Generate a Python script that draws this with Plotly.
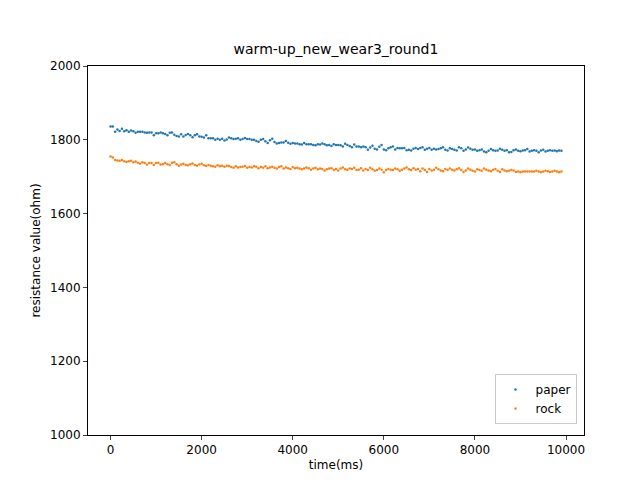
import plotly.graph_objects as go

time_ms = [i * 50 for i in range(199)]

paper = [
    1836, 1836, 1822, 1828, 1824, 1830, 1823, 1826, 1822, 1825, 1823, 1819, 1822, 1822, 1822, 1820, 1819, 1820, 1820, 1812,
    1818, 1818, 1820, 1818, 1816, 1812, 1819, 1820, 1814, 1810, 1809, 1815, 1809, 1813, 1816, 1812, 1807, 1812, 1815, 1809,
    1808, 1806, 1812, 1804, 1804, 1804, 1800, 1803, 1800, 1803, 1798, 1801, 1806, 1804, 1802, 1803, 1804, 1800, 1802, 1805,
    1802, 1802, 1800, 1800, 1797, 1795, 1800, 1802, 1796, 1791, 1799, 1803, 1794, 1790, 1791, 1793, 1793, 1797, 1792, 1789,
    1791, 1790, 1790, 1788, 1787, 1791, 1788, 1788, 1788, 1786, 1785, 1788, 1787, 1790, 1788, 1785, 1786, 1783, 1788, 1786,
    1786, 1785, 1782, 1789, 1786, 1783, 1780, 1787, 1782, 1782, 1780, 1782, 1780, 1773, 1779, 1784, 1776, 1774, 1781, 1786,
    1774, 1772, 1777, 1780, 1782, 1774, 1778, 1777, 1777, 1778, 1772, 1773, 1771, 1776, 1778, 1775, 1778, 1780, 1773, 1776,
    1778, 1773, 1776, 1774, 1775, 1777, 1780, 1773, 1771, 1777, 1775, 1773, 1771, 1780, 1777, 1770, 1774, 1779, 1776, 1773,
    1774, 1770, 1772, 1774, 1768, 1766, 1770, 1775, 1772, 1770, 1771, 1776, 1773, 1770, 1772, 1766, 1767, 1772, 1774, 1770,
    1769, 1771, 1772, 1775, 1768, 1770, 1772, 1770, 1766, 1771, 1773, 1768, 1770, 1772, 1770, 1771, 1769, 1771, 1770,
]

rock = [
    1755, 1752, 1745, 1744, 1743, 1745, 1742, 1740, 1742, 1743, 1739, 1741, 1738, 1735, 1739, 1737, 1733, 1737, 1737, 1732,
    1737, 1738, 1733, 1734, 1737, 1734, 1732, 1738, 1739, 1734, 1730, 1733, 1735, 1732, 1731, 1734, 1736, 1732, 1730, 1733,
    1735, 1731, 1729, 1732, 1730, 1728, 1727, 1731, 1728, 1730, 1727, 1730, 1729, 1726, 1724, 1728, 1725, 1726, 1727, 1729,
    1724, 1726, 1725, 1728, 1727, 1723, 1726, 1724, 1728, 1723, 1725, 1727, 1724, 1722, 1726, 1728, 1722, 1725, 1723, 1721,
    1726, 1723, 1724, 1722, 1720, 1722, 1725, 1723, 1719, 1722, 1724, 1720, 1722, 1721, 1717, 1720, 1722, 1723, 1718, 1721,
    1717, 1722, 1725, 1720, 1719, 1722, 1721, 1724, 1718, 1719, 1723, 1717, 1721, 1718, 1724, 1720, 1716, 1718, 1722, 1719,
    1712, 1718, 1721, 1719, 1718, 1722, 1720, 1716, 1719, 1722, 1725, 1720, 1718, 1723, 1719, 1721, 1715, 1722, 1718, 1713,
    1721, 1717, 1719, 1724, 1720, 1717, 1715, 1721, 1718, 1722, 1719, 1717, 1720, 1723, 1718, 1713, 1717, 1722, 1719, 1716,
    1714, 1720, 1718, 1716, 1722, 1719, 1717, 1715, 1719, 1721, 1716, 1713, 1720, 1717, 1715, 1716, 1718, 1717, 1713, 1714,
    1712, 1714, 1714, 1714, 1714, 1714, 1714, 1716, 1714, 1712, 1714, 1716, 1715, 1713, 1714, 1716, 1714, 1712, 1714,
]

x_ticks = [0, 2000, 4000, 6000, 8000, 10000]
y_ticks = [1000, 1200, 1400, 1600, 1800, 2000]

fig = go.Figure()
fig.add_trace(go.Scatter(x=time_ms, y=paper, mode="markers", name="paper",
                         marker=dict(color="#1f77b4", size=2.5)))
fig.add_trace(go.Scatter(x=time_ms, y=rock, mode="markers", name="rock",
                         marker=dict(color="#ff7f0e", size=2.5)))

axis = dict(showline=True, linecolor="black", mirror=True, ticks="outside",
            ticklen=4, showgrid=False, zeroline=False, automargin=False,
            tickfont=dict(size=12))
fig.update_layout(
    width=640, height=480,
    plot_bgcolor="white", paper_bgcolor="white",
    font=dict(family="DejaVu Sans", color="black", size=12),
    title=dict(text="warm-up_new_wear3_round1", x=0.5, xref="paper", y=0.925,
               xanchor="center", font=dict(size=14)),
    margin=dict(l=80, r=64, t=58, b=53, autoexpand=False),
    xaxis=dict(axis, title=dict(text="time(ms)", standoff=4, font=dict(size=12)),
               range=[-495, 10395], tickvals=x_ticks, ticktext=[str(t) for t in x_ticks]),
    yaxis=dict(axis, title=dict(text="resistance value(ohm)", standoff=6, font=dict(size=12)),
               range=[1000, 2000], tickvals=y_ticks, ticktext=[str(t) for t in y_ticks]),
    legend=dict(x=0.985, y=0.03, xanchor="right", yanchor="bottom",
                bordercolor="#cccccc", borderwidth=1, font=dict(size=12)),
)
fig.write_html("out.html")
